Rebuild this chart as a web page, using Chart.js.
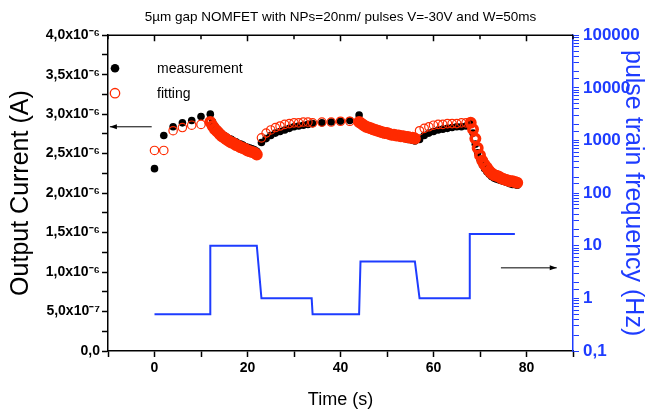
<!DOCTYPE html>
<html>
<head>
<meta charset="utf-8">
<script src="https://cdn.jsdelivr.net/npm/chart.js@4"></script>
<style>
  html, body { margin: 0; padding: 0; background: #fff; }
  #wrap { width: 654px; height: 419px; }
</style>
</head>
<body>
<div id="wrap"><canvas id="myChart"></canvas></div>
<script>
// sample times (s), shared by the measured and fitted current
var timeS = [
    0, 2, 4, 6, 8, 10,
    12, 12.5, 13, 13.5, 14, 14.5, 15, 15.5, 16, 16.5, 17, 17.5, 18, 18.5, 19, 19.5, 20, 20.5, 21, 21.5, 22,
    23, 24, 25, 26, 27, 28, 29, 30, 31, 32, 33,
    34, 36, 38, 40, 42,
    44, 44.5, 45, 45.5, 46, 46.5, 47, 47.5, 48, 48.5, 49, 49.5, 50, 50.5, 51, 51.5, 52, 52.5, 53, 53.5, 54, 54.5, 55, 55.5, 56,
    57, 58, 59, 60, 61, 62, 63, 64, 65, 66, 67,
    68, 68.5, 69, 69.5, 70, 70.5, 71, 71.5, 72, 72.5, 73, 73.5, 74, 74.5, 75, 75.5, 76, 76.5, 77, 77.5, 78
];
// output current in units of 1e-6 A
var currentMeasured = [
    2.31, 2.73, 2.84, 2.89, 2.92, 2.97,
    3.00, 2.90, 2.85, 2.81, 2.78, 2.75, 2.73, 2.71, 2.69, 2.68, 2.66, 2.65, 2.63, 2.62, 2.61, 2.59, 2.58, 2.57, 2.56, 2.55, 2.53,
    2.64, 2.69, 2.73, 2.76, 2.78, 2.80, 2.82, 2.84, 2.85, 2.86, 2.87,
    2.88, 2.89, 2.90, 2.91, 2.92,
    2.99, 2.89, 2.86, 2.84, 2.83, 2.82, 2.80, 2.79, 2.78, 2.77, 2.76, 2.75, 2.75, 2.74, 2.73, 2.72, 2.72, 2.71, 2.70, 2.70, 2.69, 2.68, 2.68, 2.67, 2.66,
    2.68, 2.73, 2.76, 2.78, 2.80, 2.81, 2.82, 2.83, 2.84, 2.84, 2.85,
    2.91, 2.76, 2.62, 2.51, 2.43, 2.36, 2.31, 2.27, 2.24, 2.21, 2.19, 2.18, 2.17, 2.16, 2.15, 2.14, 2.13, 2.12, 2.11, 2.11, 2.10
];
var currentFitted = [
    2.54, 2.54, 2.79, 2.83, 2.86, 2.87,
    2.90, 2.85, 2.81, 2.78, 2.75, 2.72, 2.70, 2.68, 2.66, 2.64, 2.63, 2.61, 2.60, 2.58, 2.57, 2.56, 2.54, 2.53, 2.52, 2.51, 2.49,
    2.70, 2.76, 2.80, 2.83, 2.85, 2.87, 2.88, 2.89, 2.89, 2.90, 2.90,
    2.89, 2.90, 2.90, 2.91, 2.91,
    2.90, 2.88, 2.86, 2.84, 2.83, 2.82, 2.81, 2.80, 2.79, 2.78, 2.77, 2.76, 2.76, 2.75, 2.74, 2.74, 2.73, 2.73, 2.72, 2.72, 2.71, 2.71, 2.70, 2.70, 2.69,
    2.79, 2.82, 2.84, 2.86, 2.87, 2.87, 2.88, 2.88, 2.88, 2.89, 2.89,
    2.89, 2.81, 2.69, 2.57, 2.48, 2.41, 2.36, 2.32, 2.28, 2.25, 2.23, 2.22, 2.21, 2.19, 2.18, 2.17, 2.16, 2.15, 2.15, 2.14, 2.13
];
// pulse train frequency steps
var timeFreq = [0, 12, 12, 22, 23, 33.8, 34, 44, 44.3, 56, 57, 67.8, 67.8, 77.5];
var freqHz = [0.5, 0.5, 10, 10, 1, 1, 0.5, 0.5, 5, 5, 1, 1, 16.7, 16.7];

var BLUE = '#1e3cff';
var RED = '#ff2a00';
var FONT = "'Liberation Sans', Arial, sans-serif";

function toXY(xs, ys) {
    return xs.map(function (x, i) { return { x: x, y: ys[i] }; });
}

// point is part of a fast pulse train when its neighbours are close
function dense(i) {
    var prev = i > 0 ? timeS[i] - timeS[i - 1] : 99;
    var next = i < timeS.length - 1 ? timeS[i + 1] - timeS[i] : 99;
    return Math.min(prev, next) < 0.75;
}

var frameAndNotes = {
    id: 'frameAndNotes',
    afterDraw: function (chart) {
        var c = chart.ctx, a = chart.chartArea;
        var x = chart.scales.x, y = chart.scales.y, y2 = chart.scales.y2;
        c.save();
        // top frame with inward ticks
        c.strokeStyle = '#000';
        c.lineWidth = 1.5;
        c.beginPath();
        c.moveTo(a.left, a.top);
        c.lineTo(a.right, a.top);
        x.ticks.forEach(function (t) {
            var px = x.getPixelForValue(t.value);
            var len = (t.value % 20 === 0) ? 6 : 4;
            c.moveTo(px, a.top);
            c.lineTo(px, a.top + len);
        });
        c.stroke();

        // arrows pointing to the axes
        function arrow(x1, x2, py, dir) {
            var p1 = x.getPixelForValue(x1), p2 = x.getPixelForValue(x2);
            c.strokeStyle = '#000';
            c.fillStyle = '#000';
            c.lineWidth = 1;
            c.beginPath();
            c.moveTo(p1, py);
            c.lineTo(p2, py);
            c.stroke();
            var tip = dir < 0 ? p1 : p2;
            c.beginPath();
            c.moveTo(tip, py);
            c.lineTo(tip - dir * 7, py - 2.5);
            c.lineTo(tip - dir * 7, py + 2.5);
            c.closePath();
            c.fill();
        }
        arrow(-9.6, -0.6, y.getPixelForValue(2.84), -1);
        arrow(74.5, 86.5, y2.getPixelForValue(3.8), 1);

        // legend inside the plot
        var lx = a.left + 7, tx = a.left + 49;
        var rows = [chart.data.datasets[0], chart.data.datasets[1]];
        c.font = '14px ' + FONT;
        c.textBaseline = 'middle';
        rows.forEach(function (ds, k) {
            var ly = a.top + 33 + k * 25;
            c.beginPath();
            c.arc(lx, ly, ds.pointRadius + 0.5, 0, Math.PI * 2);
            if (ds.pointBackgroundColor !== 'transparent') {
                c.fillStyle = ds.pointBackgroundColor;
                c.fill();
            } else {
                c.strokeStyle = ds.pointBorderColor;
                c.lineWidth = 1.3;
                c.stroke();
            }
            c.fillStyle = '#000';
            c.fillText(ds.label, tx, ly + 1);
        });
        c.restore();
    }
};

var ctx = document.getElementById('myChart').getContext('2d');
var myChart = new Chart(ctx, {
    type: 'scatter',
    data: {
        datasets: [{
            label: 'measurement',
            data: toXY(timeS, currentMeasured),
            yAxisID: 'y',
            order: 1,
            pointRadius: 3.8,
            pointBackgroundColor: '#000',
            pointBorderColor: '#000',
            pointBorderWidth: 0
        }, {
            label: 'fitting',
            data: toXY(timeS, currentFitted),
            yAxisID: 'y',
            order: 0,
            pointRadius: 4.2,
            pointBackgroundColor: 'transparent',
            pointBorderColor: RED,
            pointBorderWidth: function (c) { return dense(c.dataIndex) ? 3.6 : 1.2; }
        }, {
            label: 'pulse train frequency',
            data: toXY(timeFreq, freqHz),
            yAxisID: 'y2',
            order: 2,
            showLine: true,
            borderColor: BLUE,
            borderWidth: 2,
            pointRadius: 0,
            tension: 0
        }]
    },
    options: {
        responsive: true,
        maintainAspectRatio: false,
        animation: false,
        layout: { padding: 0 },
        plugins: {
            legend: { display: false },
            tooltip: { enabled: false },
            title: {
                display: true,
                fullSize: false,
                text: '5µm gap NOMFET with NPs=20nm/ pulses V=-30V and W=50ms',
                color: '#000',
                font: { family: FONT, size: 13.5, weight: 'normal' },
                padding: { top: 9, bottom: 10 }
            }
        },
        scales: {
            x: {
                type: 'linear',
                min: -10,
                max: 90,
                afterFit: function (s) { s.height = 68; },
                border: { color: '#000', width: 1.5 },
                grid: { drawOnChartArea: false, color: '#000', tickLength: 6, tickWidth: 1.5 },
                ticks: {
                    stepSize: 10,
                    autoSkip: false,
                    maxRotation: 0,
                    color: '#000',
                    padding: 3,
                    font: { family: FONT, size: 14, weight: 'bold' },
                    callback: function (v) { return v % 20 === 0 ? String(v) : ''; }
                },
                title: {
                    display: true,
                    text: 'Time (s)',
                    color: '#000',
                    font: { family: FONT, size: 18 },
                    padding: { top: 0, bottom: 8 }
                }
            },
            y: {
                type: 'linear',
                position: 'left',
                min: 0,
                max: 4,
                afterFit: function (s) { s.width = 108; },
                border: { color: '#000', width: 1.5 },
                grid: { drawOnChartArea: false, color: '#000', tickLength: 6, tickWidth: 1.5 },
                ticks: {
                    stepSize: 0.25,
                    autoSkip: false,
                    color: '#000',
                    padding: 2,
                    font: { family: FONT, size: 14, weight: 'bold' },
                    callback: function (v) {
                        if (Math.abs(v * 2 - Math.round(v * 2)) > 1e-9) return '';
                        if (v === 0) return '0,0';
                        if (v < 1) return (v * 10).toFixed(1).replace('.', ',') + 'x10⁻⁷';
                        return v.toFixed(1).replace('.', ',') + 'x10⁻⁶';
                    }
                },
                title: {
                    display: true,
                    text: 'Output Current (A)',
                    color: '#000',
                    font: { family: FONT, size: 25 },
                    padding: { top: 6, bottom: 0 }
                }
            },
            y2: {
                type: 'logarithmic',
                position: 'right',
                min: 0.1,
                max: 100000,
                afterFit: function (s) { s.width = 81; },
                border: { color: BLUE, width: 1.5 },
                grid: { drawOnChartArea: false, color: BLUE, tickLength: 6, tickWidth: 1 },
                ticks: {
                    autoSkip: false,
                    color: BLUE,
                    padding: 4,
                    font: { family: FONT, size: 17, weight: 'bold' },
                    callback: function (v) {
                        var l = Math.log10(v);
                        if (Math.abs(l - Math.round(l)) > 1e-6) return '';
                        if (Math.round(l) === -1) return '0,1';
                        return String(Math.round(v));
                    }
                },
                title: {
                    display: true,
                    text: 'pulse train frequency (Hz)',
                    color: BLUE,
                    font: { family: FONT, size: 25 },
                    padding: { top: 6, bottom: 0 }
                }
            }
        }
    },
    plugins: [frameAndNotes]
});
</script>
</body>
</html>
